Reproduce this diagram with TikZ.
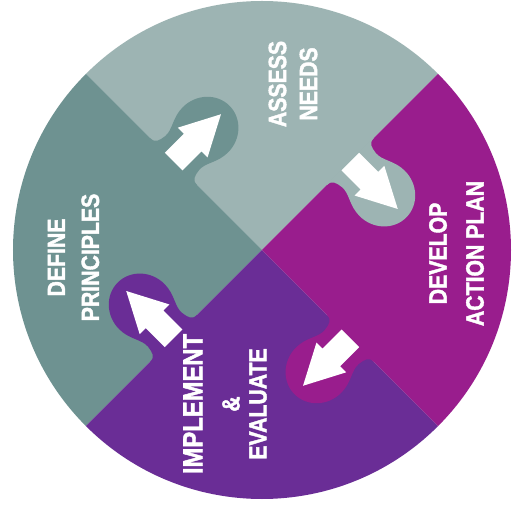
\documentclass[tikz,border=0pt]{standalone}
\usepackage{fontspec}
\newfontfamily\piecefont[FakeStretch=0.85, BoldFeatures={FakeBold=1.6}]{Liberation Sans}
\usepackage{tikz}
\definecolor{needsgrey}{HTML}{9DB4B3}
\definecolor{principlesteal}{HTML}{6E9291}
\definecolor{planmagenta}{HTML}{991D8D}
\definecolor{evalpurple}{HTML}{6A2D96}
\newcommand{\puzzletab}[2]{%
  \begin{scope}[rotate=#1, yscale=-1]
    \fill[#2] (92,-1) -- (92,0) .. controls (99,0) and (100,5) .. (101,12)
      .. controls (102,22) and (93,30) .. (93,45)
      arc[start angle=180, end angle=0, x radius=32, y radius=34]
      .. controls (157,30) and (148,22) .. (149,12)
      .. controls (150,5) and (151,0) .. (158,0) -- (158,-1) -- cycle;
    \fill[white] (112.5,0) -- (112.5,27) -- (104,27) -- (125,67)
      -- (146,27) -- (137.5,27) -- (137.5,0) -- cycle;
  \end{scope}%
}

\begin{document}
\begin{tikzpicture}[x=1pt, y=1pt,
  piece label/.style={white, inner sep=0pt, rotate=90, align=center,
    font=\piecefont\bfseries\fontsize{25}{34}\selectfont}]

\useasboundingbox (-262,-271) rectangle (251,250);
\fill[white] (-262,-271) rectangle (251,250);

\fill[needsgrey] (0,0) -- (45:249) arc (45:135:249) -- cycle;
\fill[principlesteal] (0,0) -- (135:249) arc (135:225:249) -- cycle;
\fill[evalpurple] (0,0) -- (225:249) arc (225:315:249) -- cycle;
\fill[planmagenta] (0,0) -- (-45:249) arc (-45:45:249) -- cycle;

\puzzletab{135}{principlesteal}
\puzzletab{45}{needsgrey}
\puzzletab{-45}{planmagenta}
\puzzletab{225}{evalpurple}

\node[piece label] (assess) at (31,166) {ASSESS\\[-3pt]NEEDS};
\node[piece label] (define) at (-188.5,-7.5) {DEFINE\\PRINCIPLES};
\node[piece label] (develop) at (194.5,-3.5) {DEVELOP\\[3pt]ACTION PLAN};
\node[piece label] (implement) at (-37,-154)
  {{\fontsize{28}{34}\selectfont IMPLEMENT}\\[3pt]\&\\[-7pt]EVALUATE};

\end{tikzpicture}
\end{document}
